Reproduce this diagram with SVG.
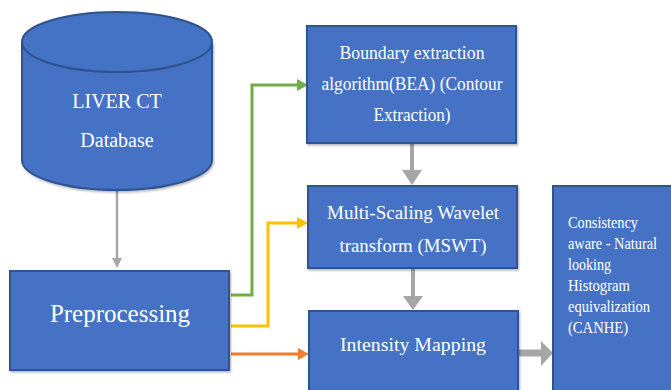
<svg xmlns="http://www.w3.org/2000/svg" width="671" height="390" viewBox="0 0 671 390">
  <style>
    .box { fill: #4472C4; stroke: #2F528F; stroke-width: 2; }
    .lbl { font-family: "Liberation Serif", "DejaVu Serif", serif; fill: #FFFFFF; }
    .mid { text-anchor: middle; }
    .gray { stroke: #A6A6A6; fill: none; }
    .link { fill: none; stroke-width: 3; }
  </style>
  <defs>
    <filter id="shadow" x="-5%" y="-5%" width="115%" height="115%">
      <feDropShadow dx="1" dy="1.5" stdDeviation="1" flood-color="#000" flood-opacity="0.3"/>
    </filter>
  </defs>

  <rect width="671" height="390" fill="#FFFFFF"/>

  <!-- connectors -->
  <g id="connectors">
    <!-- database to preprocessing -->
    <line class="gray" x1="117" y1="191" x2="117" y2="259" stroke-width="2.5"/>
    <polygon points="112,258 122,258 117,268" fill="#A6A6A6"/>

    <!-- BEA to MSWT -->
    <line class="gray" x1="412" y1="144" x2="412" y2="171" stroke-width="4"/>
    <polygon points="402,170 422,170 412,185" fill="#A6A6A6"/>

    <!-- MSWT to intensity mapping -->
    <line class="gray" x1="413" y1="269" x2="413" y2="297" stroke-width="4"/>
    <polygon points="403,296 423,296 413,310" fill="#A6A6A6"/>

    <!-- intensity mapping to CANHE -->
    <line class="gray" x1="519" y1="353" x2="543" y2="353" stroke-width="7"/>
    <polygon points="541,341 553,353 541,366" fill="#A6A6A6"/>

    <!-- preprocessing to BEA -->
    <polyline class="link" stroke="#70AD47" points="231,295 252,295 252,85 298,85"/>
    <polygon points="297,79 308,85 297,91" fill="#70AD47"/>

    <!-- preprocessing to MSWT -->
    <polyline class="link" stroke="#FFC000" points="231,326 268,326 268,223 298,223"/>
    <polygon points="297,217 308,223 297,229" fill="#FFC000"/>

    <!-- preprocessing to intensity mapping -->
    <line class="link" stroke="#ED7D31" x1="231" y1="354" x2="299" y2="354"/>
    <polygon points="298,348 309,354 298,360" fill="#ED7D31"/>
  </g>

  <!-- LIVER CT database cylinder -->
  <g id="database">
    <path class="box" d="M22,42 L22,160 A95,30 0 0 0 212,160 L212,42" filter="url(#shadow)"/>
    <ellipse class="box" cx="117" cy="42" rx="95" ry="30"/>
    <text class="lbl mid" x="117" y="108" font-size="20">LIVER CT</text>
    <text class="lbl mid" x="117" y="147" font-size="20">Database</text>
  </g>

  <g id="preprocessing">
    <rect class="box" x="10" y="271" width="219" height="99" filter="url(#shadow)"/>
    <text class="lbl mid" x="120" y="322" font-size="25">Preprocessing</text>
  </g>

  <g id="bea">
    <rect class="box" x="307" y="26" width="209" height="117" filter="url(#shadow)"/>
    <text class="lbl mid" x="412" y="59" font-size="18" textLength="145" lengthAdjust="spacingAndGlyphs">Boundary extraction</text>
    <text class="lbl mid" x="412" y="90" font-size="18" textLength="181" lengthAdjust="spacingAndGlyphs">algorithm(BEA) (Contour</text>
    <text class="lbl mid" x="412" y="121" font-size="18" textLength="77" lengthAdjust="spacingAndGlyphs">Extraction)</text>
  </g>

  <g id="mswt">
    <rect class="box" x="308" y="186" width="209" height="82" filter="url(#shadow)"/>
    <text class="lbl mid" x="413" y="219" font-size="19" textLength="172" lengthAdjust="spacingAndGlyphs">Multi-Scaling Wavelet</text>
    <text class="lbl mid" x="413" y="252" font-size="19" textLength="147" lengthAdjust="spacingAndGlyphs">transform (MSWT)</text>
  </g>

  <g id="intensity">
    <rect class="box" x="309" y="311" width="209" height="90" filter="url(#shadow)"/>
    <text class="lbl mid" x="413" y="351" font-size="19" textLength="146" lengthAdjust="spacingAndGlyphs">Intensity Mapping</text>
  </g>

  <g id="canhe">
    <rect class="box" x="553" y="186" width="130" height="215" filter="url(#shadow)"/>
    <g class="lbl" font-size="17">
      <text x="568" y="228" textLength="70" lengthAdjust="spacingAndGlyphs">Consistency</text>
      <text x="568" y="249" textLength="89" lengthAdjust="spacingAndGlyphs">aware - Natural</text>
      <text x="568" y="270" textLength="43" lengthAdjust="spacingAndGlyphs">looking</text>
      <text x="568" y="291" textLength="62" lengthAdjust="spacingAndGlyphs">Histogram</text>
      <text x="568" y="312" textLength="82" lengthAdjust="spacingAndGlyphs">equivalization</text>
      <text x="568" y="333" textLength="60" lengthAdjust="spacingAndGlyphs">(CANHE)</text>
    </g>
  </g>
</svg>
